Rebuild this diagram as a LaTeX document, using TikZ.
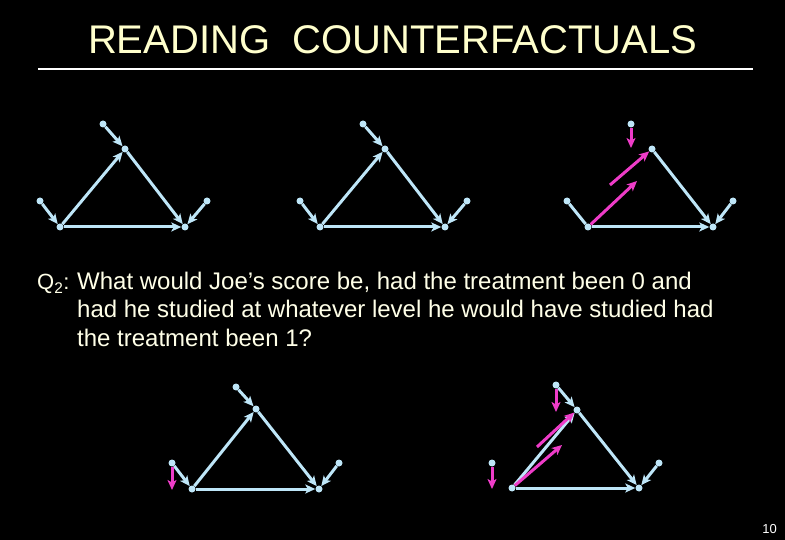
\documentclass[tikz,border=0pt]{standalone}
\usepackage{fontspec}
\setmainfont{Liberation Sans}
\usetikzlibrary{positioning,arrows.meta}
\definecolor{cfblue}{RGB}{190,230,248}
\definecolor{cfpink}{RGB}{238,60,200}
\definecolor{cftitle}{RGB}{255,255,204}
\definecolor{cftext}{RGB}{255,255,232}

\begin{document}
\begin{tikzpicture}[x=1pt, y=-1pt, >={Stealth[length=10pt, width=9pt, inset=2.5pt]},
    var/.style={circle, fill=cfblue, inner sep=0pt, minimum size=7pt},
    causal/.style={draw=cfblue, line width=3pt, ->},
    plain/.style={draw=cfblue, line width=3pt},
    cf/.style={draw=cfpink, line width=3pt, ->},
    line/.style={anchor=base west, inner sep=0pt, text=cftext, font=\fontsize{24}{28}\selectfont}]
  \fill[black] (0,0) rectangle (785,540);

  % Title
  \node[anchor=base, inner sep=0pt, text=cftitle, font=\fontsize{40}{48}\selectfont] (title) at (392.5,54) {READING\ \ COUNTERFACTUALS};
  \coordinate (rulel) at (38,69);
  \coordinate (ruler) at (753,69);
  \draw[white, line width=1.3pt] (rulel) -- (ruler);

  % Question
  \node[line, font=\fontsize{22}{28}\selectfont] (qlabel) at (37,290) {Q\textsubscript{2}:};
  \node[line] (qline1) at (77,290) {What would Joe’s score be, had the treatment been 0 and};
  \node[line] (qline2) at (77,318) {had he studied at whatever level he would have studied had};
  \node[line] (qline3) at (77,346) {the treatment been 1?};
  \node[anchor=base east, inner sep=0pt, text=white, font=\fontsize{13}{15}\selectfont] (pagenum) at (777,533) {10};

  % Graph 1
  \node[var] (uz1) at (103,124) {};
  \node[var] (z1) at (125,149) {};
  \node[var] (ut1) at (40,201) {};
  \node[var] (t1) at (60,227) {};
  \node[var] (y1) at (185,227) {};
  \node[var] (uy1) at (207,201) {};
  \draw[causal] (uz1) -- (z1);
  \draw[causal] (t1) -- (z1);
  \draw[causal] (z1) -- (y1);
  \draw[causal] (t1) -- (y1);
  \draw[causal] (ut1) -- (t1);
  \draw[causal] (uy1) -- (y1);

  % Graph 2
  \node[var] (uz2) at (363,124) {};
  \node[var] (z2) at (385,149) {};
  \node[var] (ut2) at (300,201) {};
  \node[var] (t2) at (320,227) {};
  \node[var] (y2) at (445,227) {};
  \node[var] (uy2) at (467,201) {};
  \draw[causal] (uz2) -- (z2);
  \draw[causal] (t2) -- (z2);
  \draw[causal] (z2) -- (y2);
  \draw[causal] (t2) -- (y2);
  \draw[causal] (ut2) -- (t2);
  \draw[causal] (uy2) -- (y2);

  % Graph 3
  \node[var] (uz3) at (631,124) {};
  \node[var] (z3) at (652,149) {};
  \node[var] (ut3) at (567,201) {};
  \node[var] (t3) at (588,227) {};
  \node[var] (y3) at (713,227) {};
  \node[var] (uy3) at (733,201) {};
  \coordinate (do3) at (631,148);
  \coordinate (mid3) at (637,181);
  \coordinate (from3) at (610,185);
  \draw[plain] (ut3) -- (t3);
  \draw[causal] (z3) -- (y3);
  \draw[causal] (t3) -- (y3);
  \draw[causal] (uy3) -- (y3);
  \draw[cf] (uz3) -- (do3);
  \draw[cf] (t3) -- (mid3);
  \draw[cf] (from3) -- (z3);

  % Graph 4
  \node[var] (uz4) at (236,387) {};
  \node[var] (z4) at (256,409) {};
  \node[var] (ut4) at (172,463) {};
  \node[var] (t4) at (192,489) {};
  \node[var] (y4) at (319,489) {};
  \node[var] (uy4) at (339,463) {};
  \coordinate (do4) at (172,490);
  \draw[causal] (uz4) -- (z4);
  \draw[causal] (t4) -- (z4);
  \draw[causal] (z4) -- (y4);
  \draw[causal] (t4) -- (y4);
  \draw[causal] (ut4) -- (t4);
  \draw[causal] (uy4) -- (y4);
  \draw[cf] (ut4) -- (do4);

  % Graph 5
  \node[var] (uz5) at (556,385) {};
  \node[var] (z5) at (577,410) {};
  \node[var] (ut5) at (492,463) {};
  \node[var] (t5) at (512,488) {};
  \node[var] (y5) at (639,488) {};
  \node[var] (uy5) at (659,463) {};
  \coordinate (do5z) at (556,412);
  \coordinate (do5t) at (492,489);
  \coordinate (mid5) at (562,445);
  \coordinate (from5) at (537,447);
  \draw[causal] (uz5) -- (z5);
  \draw[causal] (t5) -- (z5);
  \draw[causal] (z5) -- (y5);
  \draw[causal] (t5) -- (y5);
  \draw[causal] (uy5) -- (y5);
  \draw[cf] (uz5) -- (do5z);
  \draw[cf] (ut5) -- (do5t);
  \draw[cf] (t5) -- (mid5);
  \draw[cf] (from5) -- (z5);
\end{tikzpicture}
\end{document}
